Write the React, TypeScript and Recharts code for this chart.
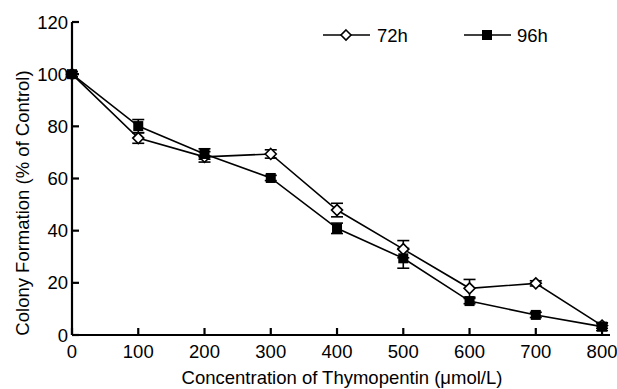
import { LineChart, Line, XAxis, YAxis, ErrorBar, Label } from 'recharts';

// concentrations (umol/L)
const concentrations = [0, 100, 200, 300, 400, 500, 600, 700, 800];
// colony formation, % of control
const values72h = [100, 75.5, 68.3, 69.4, 47.9, 32.9, 17.9, 19.8, 3.6];
const errors72h = [1, 2, 2, 1.6, 2.6, 3.3, 3.4, 1, 1];
const values96h = [100, 80.1, 69.4, 60.2, 40.9, 29.4, 13.0, 7.7, 3.2];
const errors96h = [1, 2.5, 2, 1, 2, 3.8, 1, 1, 1.5];
const xTicks = [0, 100, 200, 300, 400, 500, 600, 700, 800];
const yTicks = [0, 20, 40, 60, 80, 100, 120];

const FONT = '"Liberation Sans", Arial, Helvetica, sans-serif';
const FS = 18.5;

const data = concentrations.map((c, i) => ({
  conc: c,
  h72: values72h[i],
  e72: errors72h[i],
  h96: values96h[i],
  e96: errors96h[i],
}));

function DiamondDot(props: any) {
  const { cx, cy, index } = props;
  if (cx == null || cy == null) return null;
  return (
    <path
      key={`d-${index}`}
      d={`M${cx},${cy - 5.5} L${cx + 5.5},${cy} L${cx},${cy + 5.5} L${cx - 5.5},${cy} Z`}
      fill="#fff"
      stroke="#000"
      strokeWidth={1.6}
    />
  );
}

function SquareDot(props: any) {
  const { cx, cy, index } = props;
  if (cx == null || cy == null) return null;
  return <rect key={`s-${index}`} x={cx - 5} y={cy - 5} width={10} height={10} fill="#000" />;
}

// legend drawn by hand, sits over the top right of the plot
function LegendBox() {
  return (
    <svg width={260} height={24} style={{ position: 'absolute', left: 323, top: 23, overflow: 'visible' }}>
      <line x1={0} y1={12} x2={47} y2={12} stroke="#000" strokeWidth={1.6} />
      <path d="M23,7 L28,12 L23,17 L18,12 Z" fill="#fff" stroke="#000" strokeWidth={1.6} />
      <text x={54} y={18.5} fontSize={FS} fontFamily={FONT} fill="#000">72h</text>
      <line x1={141} y1={12} x2={188} y2={12} stroke="#000" strokeWidth={1.6} />
      <rect x={159} y={7} width={10} height={10} fill="#000" />
      <text x={194} y={18.5} fontSize={FS} fontFamily={FONT} fill="#000">96h</text>
    </svg>
  );
}

export default function App() {
  return (
    <div style={{ position: 'absolute', left: 0, top: 0, width: 617, height: 389, background: '#fff' }}>
      <LineChart width={617} height={389} data={data} margin={{ top: 22, right: 7, bottom: 0, left: 0 }}>
        <XAxis
          dataKey="conc"
          type="number"
          domain={[0, 812]}
          ticks={xTicks}
          height={54}
          axisLine={{ stroke: '#000', strokeWidth: 2.2 }}
          tickLine={{ stroke: '#000', strokeWidth: 2.2 }}
          tickSize={-7}
          tickMargin={17}
          tick={{ fill: '#000', fontSize: FS, fontFamily: FONT }}
        >
          <Label
            content={() => (
              <text x={342} y={384} textAnchor="middle" fontSize={FS} fontFamily={FONT} fill="#000">
                Concentration of Thymopentin (μmol/L)
              </text>
            )}
          />
        </XAxis>
        <YAxis
          type="number"
          domain={[0, 120]}
          ticks={yTicks}
          width={72}
          axisLine={{ stroke: '#000', strokeWidth: 2.2 }}
          tickLine={{ stroke: '#000', strokeWidth: 2.2 }}
          tickSize={-7}
          tickMargin={11}
          tick={{ fill: '#000', fontSize: FS, fontFamily: FONT }}
        >
          <Label
            content={() => (
              <text
                x={29}
                y={203}
                transform="rotate(-90 29 203)"
                textAnchor="middle"
                fontSize={FS}
                fontFamily={FONT}
                fill="#000"
              >
                Colony Formation (% of Control)
              </text>
            )}
          />
        </YAxis>
        <Line
          dataKey="h72"
          stroke="#000"
          strokeWidth={1.6}
          type="linear"
          dot={DiamondDot}
          activeDot={false}
          isAnimationActive={false}
        >
          <ErrorBar dataKey="e72" width={6} stroke="#000" strokeWidth={1.6} direction="y" isAnimationActive={false} />
        </Line>
        <Line
          dataKey="h96"
          stroke="#000"
          strokeWidth={1.6}
          type="linear"
          dot={SquareDot}
          activeDot={false}
          isAnimationActive={false}
        >
          <ErrorBar dataKey="e96" width={6} stroke="#000" strokeWidth={1.6} direction="y" isAnimationActive={false} />
        </Line>
      </LineChart>
      <LegendBox />
    </div>
  );
}
